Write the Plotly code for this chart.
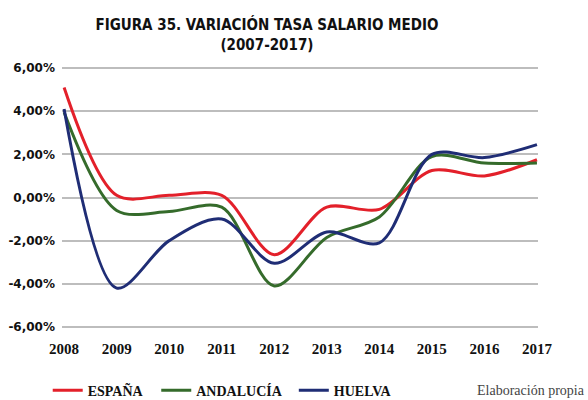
import plotly.graph_objects as go

years = ["2008", "2009", "2010", "2011", "2012", "2013", "2014", "2015", "2016", "2017"]
espana = [5.1, 0.1, 0.1, 0.1, -2.65, -0.45, -0.55, 1.25, 1.0, 1.75]
andalucia = [3.95, -0.6, -0.65, -0.45, -4.1, -1.85, -0.9, 1.9, 1.6, 1.6]
huelva = [4.1, -4.2, -2.0, -1.0, -3.05, -1.6, -2.1, 2.0, 1.85, 2.45]
yticks = [-6, -4, -2, 0, 2, 4, 6]
yticklabels = ["-6,00%", "-4,00%", "-2,00%", "0,00%", "2,00%", "4,00%", "6,00%"]

series = [("ESPAÑA", espana, "#e3202a", "legend", -0.03),
          ("ANDALUCÍA", andalucia, "#356b2b", "legend2", 0.198),
          ("HUELVA", huelva, "#1f2d75", "legend3", 0.487)]

fig = go.Figure()
legend_layout = {}
for name, vals, col, lg, lx in series:
    fig.add_trace(go.Scatter(x=list(range(len(years))), y=vals, name="<b>%s</b>" % name, mode="lines", legend=lg,
                             line=dict(color=col, width=3, shape="spline", smoothing=0.9)))
    legend_layout[lg] = dict(orientation="h", x=lx, y=-0.24, xanchor="left", yanchor="middle",
                             font=dict(family="Liberation Serif", size=14, color="#111"),
                             bgcolor="rgba(0,0,0,0)")

fig.update_layout(
    width=588, height=400,
    paper_bgcolor="white", plot_bgcolor="white",
    margin=dict(l=62, r=50, t=67, b=72, autoexpand=False),
    title=dict(text="<b>FIGURA 35. VARIACIÓN TASA SALARIO MEDIO</b><br><b>(2007-2017)</b>",
               x=0.454, xanchor="center", y=0.925, yanchor="top",
               font=dict(family="DejaVu Sans Condensed", size=15, color="#111")),
    showlegend=True,
    font=dict(family="Liberation Serif", color="#111"),
    **legend_layout,
)
fig.update_xaxes(tickmode="array", tickvals=list(range(len(years))), ticktext=["<b>%s</b>" % y for y in years],
                 range=[-0.04, 9.02], showgrid=False, zeroline=False, showline=False, ticks="",
                 ticklabelstandoff=10,
                 tickfont=dict(family="Liberation Serif", size=15, color="#111"))
fig.update_yaxes(tickmode="array", tickvals=yticks, ticktext=["<b>%s</b>" % t for t in yticklabels],
                 range=[-6.05, 6.05], showgrid=True, gridcolor="#bdbdbd", gridwidth=1.5,
                 zeroline=False, showline=False, ticks="", ticklabelstandoff=6,
                 tickfont=dict(family="DejaVu Sans", size=12, color="#111"))
fig.add_annotation(text="Elaboración propia", xref="paper", yref="paper", x=(587 - 62) / 476, y=-0.24,
                   xanchor="right", yanchor="middle", showarrow=False,
                   font=dict(family="Liberation Serif", size=14, color="#444"))
fig.write_html("out.html", config={"displayModeBar": False},
               post_script="document.body.style.margin='0';")
